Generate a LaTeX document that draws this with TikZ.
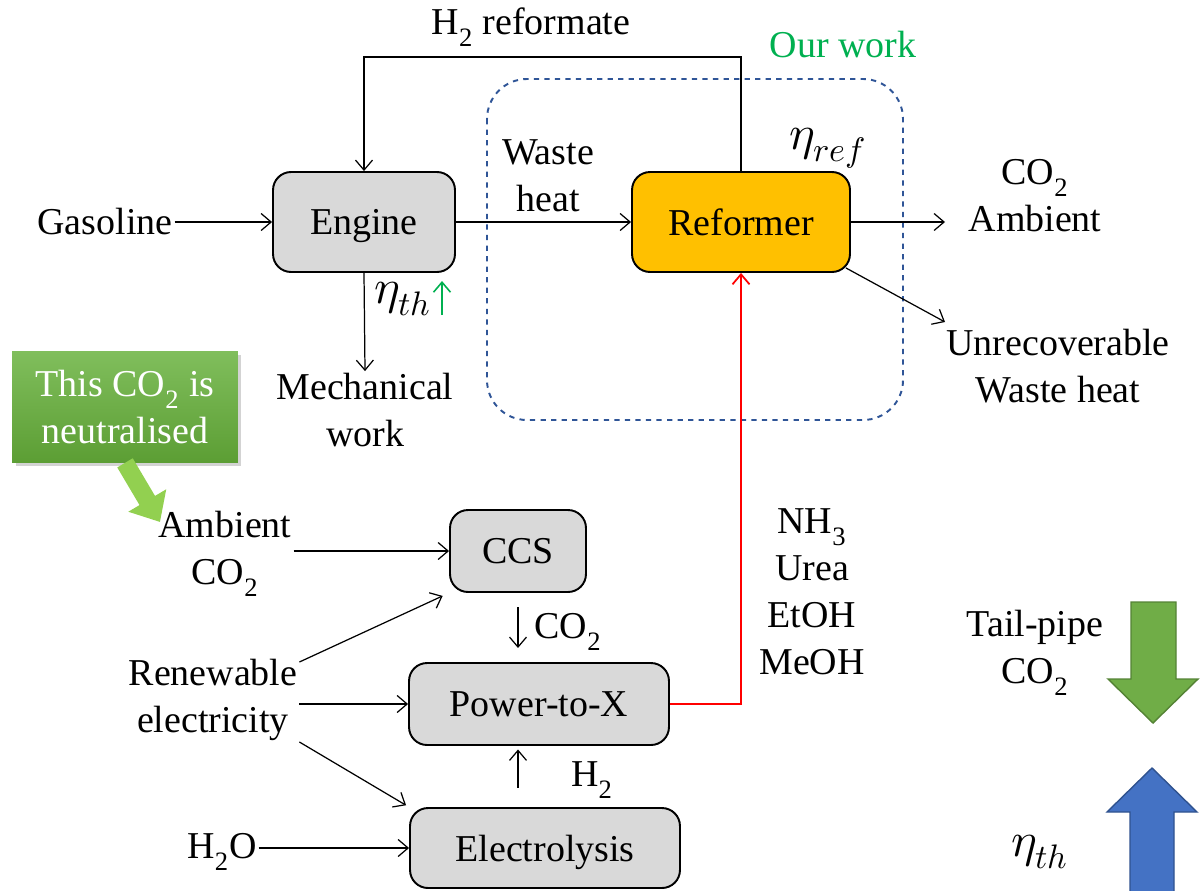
\documentclass[tikz,border=0pt]{standalone}
\usepackage{fontspec}
\usepackage{unicode-math}
\setmainfont{Liberation Serif}
\setmathfont{Latin Modern Math}[Scale=1.28]
\usetikzlibrary{arrows.meta,shadows}
\definecolor{boxgray}{RGB}{217,217,217}
\definecolor{refyellow}{RGB}{255,192,0}
\definecolor{workblue}{RGB}{47,85,151}
\definecolor{workgreen}{RGB}{0,176,80}
\definecolor{calltop}{RGB}{128,190,92}
\definecolor{callbot}{RGB}{92,158,52}
\definecolor{pointgreen}{RGB}{146,208,80}
\definecolor{tpgreen}{RGB}{112,173,71}
\definecolor{tpgreenD}{RGB}{84,130,53}
\definecolor{etablue}{RGB}{68,114,196}
\definecolor{etablueD}{RGB}{47,82,143}
\begin{document}
\begin{tikzpicture}[x=0.02cm,y=-0.02cm,
  every node/.style={font=\fontsize{21.6}{26.7}\selectfont},
  blk/.style={draw,line width=1.1pt,rounded corners=0.36cm,fill=boxgray,align=center,text depth=0pt},
  arr/.style={-{Straight Barb[length=2mm,width=3.4mm]},line width=0.7pt},
  lbl/.style={align=center,inner sep=1pt}]
\useasboundingbox (0,0) rectangle (1200,890);
% our work region
\draw[workblue,dashed,line width=1.1pt,rounded corners=0.8cm] (487,79) rectangle (903,420);
\node[workgreen,lbl] (ourwork) at (843,45) {Our work};
% engine side
\node[blk,minimum width=3.64cm,minimum height=2cm] (eng) at (364,222) {Engine};
\node[blk,fill=refyellow,minimum width=4.36cm,minimum height=2cm] (ref) at (741,222) {Reformer};
\node[lbl] (gas) at (105,222) {Gasoline};
\node[lbl] (mech) at (365,410) {Mechanical\\work};
\node[lbl] (waste) at (548,176) {Waste\\heat};
\node[lbl] (h2ref) at (531,27) {H\textsubscript{2} reformate};
\node[lbl] (etaref) at (828,148) {$\eta_{ref}$};
\node[lbl] (etath) at (403,299) {$\eta_{th}$};
\node[lbl] (co2amb) at (1035,196) {CO\textsubscript{2}\\Ambient};
\node[lbl] (unrec) at (1058,366) {Unrecoverable\\Waste heat};
\coordinate (outR) at (945,222);
\coordinate (outU) at (945,322);
\draw[arr] (gas.east |- eng.west) -- (eng.west);
\draw[arr] (eng.east) -- (ref.west);
\draw[arr] (ref.north) -- ++(0,-114) -| (eng.north);
\draw[arr] (eng.south) -- (mech.north);
\draw[arr,workgreen,line width=0.9pt] (442,315) -- (442,281);
\draw[arr] (ref.east) -- (outR);
\draw[arr] (ref.south east) ++(-5,-5) -- (outU);
% fuel production side
\node[blk,minimum width=2.72cm,minimum height=1.64cm] (ccs) at (518,551) {CCS};
\node[blk,minimum width=5.2cm,minimum height=1.64cm] (ptx) at (539,704) {Power-to-X};
\node[blk,minimum width=5.4cm,minimum height=1.6cm] (ele) at (545,848) {Electrolysis};
\node[lbl] (ambco2) at (225,554) {Ambient\\CO\textsubscript{2}};
\node[lbl] (ren) at (213,700) {Renewable\\electricity};
\node[lbl] (h2o) at (222,852) {H\textsubscript{2}O};
\node[lbl] (co2lbl) at (568,632) {CO\textsubscript{2}};
\node[lbl] (h2lbl) at (592,780) {H\textsubscript{2}};
\node[lbl] (fuels) at (812,592) {NH\textsubscript{3}\\Urea\\EtOH\\MeOH};
\draw[arr] (ambco2.east |- ccs.west) -- (ccs.west);
\draw[arr,shorten >=4pt] ([yshift=0.76cm]ren.east) -- (ccs.south west);
\draw[arr] (ren.east |- ptx.west) -- (ptx.west);
\draw[arr,shorten >=2pt] ([yshift=-0.84cm]ren.east) -- (ele.north west);
\draw[arr] (h2o.east |- ele.west) -- (ele.west);
\draw[arr,shorten <=8pt,shorten >=8pt] (ccs.south) -- (ccs.south |- ptx.north);
\draw[arr,shorten <=11pt,shorten >=2pt] (ele.north -| ccs.south) -- (ccs.south |- ptx.south);
\draw[arr,red,line width=1pt] (ptx.east) -| (ref.south);
% callout
\node[lbl,text=white,minimum width=4.52cm,minimum height=2.22cm,top color=calltop,bottom color=callbot,
  drop shadow={shadow xshift=2pt,shadow yshift=-2pt,opacity=0.35}] (callout) at (125,407) {This CO\textsubscript{2} is\\neutralised};
\coordinate (calltip) at (160,522);
\draw[pointgreen,line width=0.36cm,-{Triangle[length=5mm,width=8.5mm]}] (callout.south) -- (calltip);
% trend arrows
\node[lbl] (tailpipe) at (1035,653) {Tail-pipe\\CO\textsubscript{2}};
\node[lbl] (etath2) at (1040,852) {$\eta_{th}$};
\filldraw[fill=tpgreen,draw=tpgreenD,line width=0.8pt] (1131,602) -- (1176,602) -- (1176,679) -- (1198,679) -- (1153,723) -- (1108,679) -- (1131,679) -- cycle;
\filldraw[fill=etablue,draw=etablueD,line width=0.8pt] (1130,892) -- (1130,812) -- (1107,812) -- (1152,768) -- (1197,812) -- (1174,812) -- (1174,892) -- cycle;
\end{tikzpicture}
\end{document}
